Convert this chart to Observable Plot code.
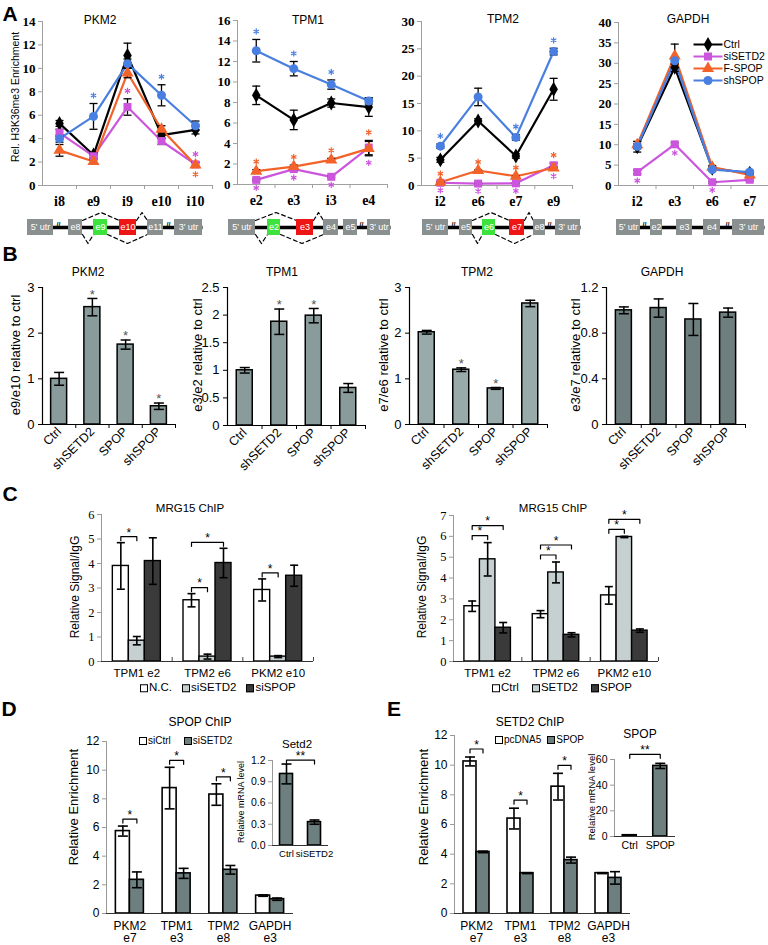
<!DOCTYPE html>
<html><head><meta charset="utf-8">
<script src="https://cdn.jsdelivr.net/npm/d3@7"></script>
<script src="https://cdn.jsdelivr.net/npm/@observablehq/plot@0.6"></script>
<style>
html,body{margin:0;padding:0;background:#fff;}
#root{position:relative;width:768px;height:945px;overflow:hidden;font-family:"Liberation Sans",Arial,sans-serif;color:#000;background:#fff;}
.t{position:absolute;white-space:nowrap;transform:translate(-50%,-50%);line-height:1;}
.r{transform:translate(-50%,-50%) rotate(-90deg);}
.lg{position:absolute;display:flex;align-items:center;transform:translateY(-50%);white-space:nowrap;line-height:1;}
.lg .sq{display:inline-block;width:6px;height:6px;border:1px solid #000;margin-right:1px;}
</style></head><body><div id="root"></div>
<script>
// ---------- DATA ----------
// Panel A: H3K36me3 ChIP line charts
const aSeries = ["Ctrl","siSETD2","F-SPOP","shSPOP"];
const aColors = ["#000000","#cc55dd","#f26229","#4a7fe2"];
const aSymbols = ["diamond","square","triangle","circle"];

const pkm2Sites = ["i8","e9","i9","e10","i10"];
const pkm2Vals = {"Ctrl":[5.3,2.6,11.1,4.3,4.75],"siSETD2":[4.5,2.5,6.7,3.8,1.8],"F-SPOP":[3.0,2.05,9.6,4.8,1.75],"shSPOP":[4.0,5.9,10.4,7.7,5.1]};
const pkm2Errs = {"Ctrl":[0.25,0.2,1.05,0.3,0.35],"siSETD2":[0.3,0.2,0.7,0.3,0.2],"F-SPOP":[0.5,0.15,0.4,0.3,0.2],"shSPOP":[0.3,1.1,0.4,0.9,0.4]};
const pkm2Stars = [["e9","shSPOP","a"],["e10","shSPOP","a"],["i9","siSETD2","a"],["i10","siSETD2","a"],["i10","F-SPOP","b"]];

const tpm1Sites = ["e2","e3","i3","e4"];
const tpm1Vals = {"Ctrl":[8.7,6.3,7.95,7.55],"siSETD2":[0.45,1.5,0.75,3.6],"F-SPOP":[1.3,1.75,2.4,3.5],"shSPOP":[13.05,11.3,9.75,8.15]};
const tpm1Errs = {"Ctrl":[0.9,0.95,0.4,0.9],"siSETD2":[0.1,0.15,0.1,0.7],"F-SPOP":[0.15,0.15,0.15,0.7],"shSPOP":[1.1,0.7,0.45,0.3]};
const tpm1Stars = [["e2","shSPOP","a"],["e3","shSPOP","a"],["i3","shSPOP","a"],["e2","F-SPOP","a"],["e3","F-SPOP","a"],["i3","F-SPOP","a"],["e4","F-SPOP","a"],["e2","siSETD2","b"],["e3","siSETD2","b"],["i3","siSETD2","b"],["e4","siSETD2","b"]];

const tpm2Sites = ["i2","e6","e7","e9"];
const tpm2Vals = {"Ctrl":[4.7,11.8,5.4,17.6],"siSETD2":[0.5,0.35,0.4,3.7],"F-SPOP":[0.6,2.75,1.7,3.2],"shSPOP":[7.2,16.2,8.8,24.5]};
const tpm2Errs = {"Ctrl":[0.45,0.4,0.4,2.0],"siSETD2":[0.1,0.1,0.1,0.4],"F-SPOP":[0.1,0.1,0.1,0.2],"shSPOP":[0.4,1.6,0.5,0.6]};
const tpm2Stars = [["i2","shSPOP","a"],["e7","shSPOP","a"],["e9","shSPOP","a"],["i2","F-SPOP","a"],["e6","F-SPOP","a"],["e7","F-SPOP","a"],["e9","F-SPOP","a"],["i2","siSETD2","b"],["e6","siSETD2","b"],["e7","siSETD2","b"],["e9","siSETD2","b"]];

const gapdhSites = ["i2","e3","e6","e7"];
const gapdhVals = {"Ctrl":[9.5,29.0,4.2,3.0],"siSETD2":[3.3,10.1,0.8,1.4],"F-SPOP":[10.0,31.8,4.5,2.6],"shSPOP":[9.6,30.6,3.9,3.3]};
const gapdhErrs = {"Ctrl":[1.3,1.0,0.4,0.4],"siSETD2":[0.4,0.4,0.2,0.3],"F-SPOP":[0.8,2.9,0.4,0.4],"shSPOP":[0.6,0.8,0.3,0.4]};
const gapdhStars = [["i2","siSETD2","b"],["e3","siSETD2","b"],["e6","siSETD2","b"]];

// Gene schematics: [label, start, end, kind]  (kind: g = constitutive, in = included, ex = excluded)
const pkm2Exons = [["5' utr",27,53,"g"],["e8",68,82,"g"],["e9",93,107,"in"],["e10",119,136,"ex"],["e11",147,163,"g"],["3' utr",174,202,"g"]];
const pkm2Arcs = [[82,119,"up"],[136,147,"up"],[82,93,"down"],[107,147,"down"]];
const pkm2Breaks = [58,168];
const tpm1Exons = [["5' utr",228,255,"g"],["e2",267,280,"in"],["e3",296,313,"ex"],["e4",323,338,"g"],["e5",343,357,"g"],["3' utr",367,390,"g"]];
const tpm1Arcs = [[255,296,"up"],[313,323,"up"],[255,267,"down"],[280,323,"down"]];
const tpm1Breaks = [361];
const tpm2Exons = [["5' utr",422,448,"g"],["e5",459,472,"g"],["e6",482,495,"in"],["e7",509,524,"ex"],["e8",533,545,"g"],["3' utr",555,580,"g"]];
const tpm2Arcs = [[472,509,"up"],[524,533,"up"],[472,482,"down"],[495,533,"down"]];
const tpm2Breaks = [453,549];
const gapdhExons = [["5' utr",616,640,"g"],["e2",650,662,"g"],["e3",676,692,"g"],["e4",703,720,"g"],["3' utr",732,764,"g"]];
const gapdhArcs = [];
const gapdhBreaks = [644,727];

// Panel B: exon inclusion ratios
const bCats = ["Ctrl","shSETD2","SPOP","shSPOP"];
const pkm2Ratio = [1.0,2.57,1.75,0.4];
const pkm2RatioErr = [0.14,0.19,0.1,0.07];
const pkm2RatioStar = [false,true,true,true];
const tpm1Ratio = [1.0,1.88,1.99,0.68];
const tpm1RatioErr = [0.05,0.23,0.13,0.08];
const tpm1RatioStar = [false,true,true,false];
const tpm2Ratio = [2.02,1.2,0.79,2.65];
const tpm2RatioErr = [0.04,0.04,0.02,0.07];
const tpm2RatioStar = [false,true,true,false];
const gapdhRatio = [1.0,1.02,0.92,0.98];
const gapdhRatioErr = [0.03,0.08,0.14,0.04];
const gapdhRatioStar = [false,false,false,false];

// Panel C: MRG15 ChIP
const cGroups = ["TPM1 e2","TPM2 e6","PKM2 e10"];
const cLeftSeries = ["N.C.","siSETD2","siSPOP"];
const cLeftVals = [[3.9,2.5,2.92],[0.85,0.2,0.2],[4.1,4.02,3.5]];
const cLeftErrs = [[0.95,0.27,0.45],[0.17,0.1,0.04],[0.95,0.6,0.43]];
const cLeftSig = [{from:[0,0],to:[0,1]},{from:[1,0],to:[1,1]},{from:[1,0],to:[1,2]},{from:[2,0],to:[2,1]}];
const cRightSeries = ["Ctrl","SETD2","SPOP"];
const cRightVals = [[2.65,2.27,3.17],[4.9,4.27,5.97],[1.62,1.28,1.48]];
const cRightErrs = [[0.25,0.17,0.42],[0.8,0.5,0.03],[0.25,0.1,0.08]];
const cRightSig = [{from:[0,0],to:[0,1]},{from:[0,0],to:[0,2],tier:1},{from:[1,0],to:[1,1]},{from:[1,0],to:[1,2],tier:1},{from:[2,0],to:[2,1]},{from:[2,0],to:[2,2],tier:1}];
const cFills = ["#ffffff","#c6d0d0","#3a3a3a"];

// Panel D: SPOP ChIP
const deGroups = ["PKM2\ne7","TPM1\ne3","TPM2\ne8","GAPDH\ne3"];
const dSeries = ["siCtrl","siSETD2"];
const dVals = [[5.75,8.75,8.3,1.25],[2.35,2.8,3.05,1.0]];
const dErrs = [[0.35,1.45,0.75,0.05],[0.55,0.35,0.3,0.08]];
const dSig = [{from:[0,0],to:[0,1]},{from:[1,0],to:[1,1]},{from:[2,0],to:[2,1]}];
const dInsetCats = ["Ctrl","siSETD2"];
const dInsetVals = [1.01,0.33];
const dInsetErrs = [0.14,0.03];

// Panel E: SETD2 ChIP
const eSeries = ["pcDNA5","SPOP"];
const eVals = [[10.25,6.4,8.55,2.72],[4.15,2.72,3.6,2.4]];
const eErrs = [[0.3,0.7,0.9,0.03],[0.05,0.03,0.2,0.42]];
const eSig = [{from:[0,0],to:[0,1]},{from:[1,0],to:[1,1]},{from:[2,0],to:[2,1]}];
const eInsetCats = ["Ctrl","SPOP"];
const eInsetVals = [1,55];
const eInsetErrs = [0.3,2];
const deFills = ["#ffffff","#6e7f7f"];

// ---------- DRAWING ----------
const root = document.getElementById("root");
const serif = "Liberation Serif, 'Times New Roman', serif";
const sans = "Liberation Sans, Arial, sans-serif";

function mk(box, frame, opts) {
  const [L,T,R,B] = box, [x0,y0,x1,y1] = frame;
  const svg = Plot.plot({
    width: R-L, height: B-T,
    marginLeft: x0-L, marginRight: R-x1, marginTop: y0-T, marginBottom: B-y1,
    style: {background:"transparent", overflow:"visible", fontFamily: sans, fontSize:"12px", color:"#000"},
    ...opts
  });
  svg.style.position = "absolute"; svg.style.left = L+"px"; svg.style.top = T+"px";
  svg.style.maxWidth = "none"; svg.style.overflow = "visible";
  root.appendChild(svg);
  return svg;
}
function label(text, x, y, size, o = {}) {
  const d = document.createElement("div");
  d.className = "t" + (o.rotate ? " r" : "");
  d.textContent = text;
  d.style.left = x+"px"; d.style.top = y+"px"; d.style.fontSize = size+"px";
  if (o.bold) d.style.fontWeight = "bold";
  root.appendChild(d);
}
function legend(items, fills, x, y, size, gap) {
  const d = document.createElement("div");
  d.className = "lg"; d.style.left = x+"px"; d.style.top = y+"px"; d.style.fontSize = size+"px";
  items.forEach((it, i) => {
    const sq = document.createElement("span"); sq.className = "sq"; sq.style.background = fills[i];
    const tx = document.createElement("span"); tx.textContent = it;
    if (i < items.length-1) tx.style.marginRight = gap+"px";
    d.appendChild(sq); d.appendChild(tx);
  });
  root.appendChild(d);
}

function linePanel(box, frame, sites, vals, errs, ymax, ystep, stars) {
  const n = sites.length;
  const [x0,y0,x1,y1] = frame;
  const band = (x1-x0)/n, ppu = (y1-y0)/ymax;
  const rows = [];
  aSeries.forEach(s => sites.forEach((site,i) => rows.push({s, i, v: vals[s][i], e: errs[s][i]})));
  const near = 12/ppu;
  const starRows = stars.map(([site, s, pos]) => {
    const i = sites.indexOf(site), v = vals[s][i];
    const cl = rows.filter(r => r.i === i && Math.abs(r.v - v) <= near);
    const y = pos === "a" ? d3.max(cl, r => r.v + r.e) : d3.min(cl, r => r.v - r.e);
    return {s, i, y, pos};
  });
  const erows = rows.filter(r => r.e > 0);
  const cw = 4/band;
  const caps = erows.flatMap(r => [{i:r.i, y:r.v+r.e},{i:r.i, y:r.v-r.e}]);
  mk(box, frame, {
    x: {type:"linear", domain:[-0.5, n-0.5]},
    y: {domain:[0, ymax]},
    color: {domain: aSeries, range: aColors},
    symbol: {domain: aSeries, range: aSymbols},
    marks: [
      Plot.ruleY([0], {stroke:"#a0a0a0"}),
      Plot.ruleX([-0.5], {stroke:"#a0a0a0"}),
      Plot.axisY({ticks: d3.range(0, ymax+1e-9, ystep), tickFormat: d3.format("d"), tickSize:4, tickPadding:3, stroke:"#a0a0a0", fontFamily: serif, fontWeight:"bold", fontSize:13, label:null}),
      Plot.axisX({ticks: d3.range(0.5, n, 1), tickSize:4, tickFormat: () => "", stroke:"#a0a0a0", label:null}),
      Plot.axisX({ticks: d3.range(n), tickSize:0, tickPadding:11, tickFormat: i => sites[i], fontFamily: serif, fontWeight:"bold", fontSize:14, label:null}),
      Plot.line(rows, {x:"i", y:"v", z:"s", stroke:"s", strokeWidth:2.2}),
      Plot.ruleX(erows, {x:"i", y1: r => r.v - r.e, y2: r => r.v + r.e, stroke:"#000", strokeWidth:1.3}),
      Plot.link(caps, {x1: r => r.i - cw, x2: r => r.i + cw, y1:"y", y2:"y", stroke:"#000", strokeWidth:1.3}),
      Plot.dot(rows, {x:"i", y:"v", symbol:"s", fill:"s", r:4.5}),
      // significance asterisks
      Plot.dot(starRows.filter(d => d.pos === "a"), {x:"i", y:"y", symbol:"asterisk", stroke:"s", r:2.9, strokeWidth:1.2, dy:-8}),
      Plot.dot(starRows.filter(d => d.pos === "b"), {x:"i", y:"y", symbol:"asterisk", stroke:"s", r:2.9, strokeWidth:1.2, dy:7})
    ]
  });
}

function barPanel(box, frame, cats, vals, errs, stars, ymax, ticks, fill, fmt) {
  const n = cats.length;
  const [x0,y0,x1,y1] = frame;
  const band = (x1-x0)/n;
  const rows = cats.map((c,i) => ({c, i, v: vals[i], e: errs[i], star: stars[i]}));
  const hw = 8/band, cw = 5/band;
  const caps = rows.flatMap(r => [{i:r.i, y:r.v+r.e},{i:r.i, y:r.v-r.e}]);
  mk(box, frame, {
    x: {type:"linear", domain:[-0.5, n-0.5]},
    y: {domain:[0, ymax]},
    marks: [
      Plot.rect(rows, {x1: r => r.i - hw, x2: r => r.i + hw, y1: () => 0, y2:"v", fill, stroke:"#000", strokeWidth:1.5}),
      Plot.ruleX(rows, {x:"i", y1: r => r.v - r.e, y2: r => r.v + r.e, stroke:"#000", strokeWidth:1.5}),
      Plot.link(caps, {x1: r => r.i - cw, x2: r => r.i + cw, y1:"y", y2:"y", stroke:"#000", strokeWidth:1.5}),
      Plot.ruleY([0], {stroke:"#000", strokeWidth:1.2}),
      Plot.ruleX([-0.5], {stroke:"#000", strokeWidth:1.2}),
      Plot.axisY({ticks, tickFormat: fmt, tickSize:4, tickPadding:4, fontSize:13, label:null}),
      Plot.axisX({ticks: d3.range(0.5, n+0.5, 1), tickSize:4, tickFormat: () => "", label:null}),
      Plot.axisX({ticks: d3.range(n), tickSize:0, tickPadding:5, tickRotate:-45, tickFormat: i => cats[i], fontSize:12.5, label:null}),
      Plot.text(rows.filter(r => r.star), {x:"i", y: r => r.v + r.e, text: () => "*", fill:"#555", fontSize:13, dy:-4})
    ]
  });
}

function groupPanel(o) {
  const n = o.groups.length, ns = o.series.length;
  const [x0,y0,x1,y1] = o.frame;
  const band = (x1-x0)/n, ppu = (y1-y0)/o.ymax;
  const w = o.barPx/band;
  const rows = [];
  o.series.forEach((s,si) => o.groups.forEach((g,gi) => rows.push({s, si, gi, v: o.vals[si][gi], e: o.errs[si][gi], x: gi + (si-(ns-1)/2)*w})));
  const at = (gi,si) => rows.find(r => r.gi === gi && r.si === si);
  const br = (o.sig || []).map((b,k) => {
    const a = at(...b.from), c = at(...b.to);
    const lo = Math.min(a.x,c.x), hi = Math.max(a.x,c.x);
    const top = d3.max(rows.filter(r => r.x >= lo-1e-9 && r.x <= hi+1e-9), r => r.v + r.e);
    const y = top + (o.pad + (b.tier || 0)*o.tierPx)/ppu;
    return {k, xa:a.x, xb:c.x, y, leg: 4/ppu, label: o.sigLabel || "*"};
  });
  const brPts = br.flatMap(b => [{k:b.k,x:b.xa,y:b.y-b.leg},{k:b.k,x:b.xa,y:b.y},{k:b.k,x:b.xb,y:b.y},{k:b.k,x:b.xb,y:b.y-b.leg}]);
  const cw = (o.capPx || 4)/band;
  const erows = rows.filter(r => r.e > 0);
  const caps = erows.flatMap(r => [{x:r.x, y:r.v+r.e},{x:r.x, y:r.v-r.e}]);
  const marks = [
    Plot.rect(rows, {x1: r => r.x - w/2, x2: r => r.x + w/2, y1: () => 0, y2:"v", fill:"s", stroke:"#000", strokeWidth: o.barStroke || 1.4}),
    Plot.ruleX(erows, {x:"x", y1: r => r.v - r.e, y2: r => r.v + r.e, stroke:"#000", strokeWidth:1.6}),
    Plot.link(caps, {x1: r => r.x - cw, x2: r => r.x + cw, y1:"y", y2:"y", stroke:"#000", strokeWidth:1.6}),
    Plot.ruleY([0], {stroke: o.xAxisColor || "#333"}),
    Plot.ruleX([-0.5], {stroke: o.axisColor || "#999"}),
    Plot.axisY({ticks: o.ticks, tickFormat: o.tickFormat || d3.format("d"), tickSize:4, tickPadding:3, stroke: o.axisColor || "#999", fontFamily: o.tickFont || sans, fontSize: o.tickFontSize || 12, label:null}),
    Plot.axisX({ticks: d3.range(n), tickFormat: i => o.groups[i], tickSize:0, tickPadding: o.catPad || 6, fontSize: o.catFontSize || 12, lineHeight: o.lineHeight || 1, label:null}),
    Plot.line(brPts, {x:"x", y:"y", z:"k", stroke:"#000", strokeWidth:1.2}),
    Plot.text(br, {x: b => (b.xa+b.xb)/2, y:"y", text:"label", dy:-4, fontSize: o.starSize || 12})
  ];
  if (o.bounds) marks.push(Plot.ruleX(d3.range(0.5, n, 1), {y1: () => 0, y2: () => 4/ppu, stroke:"#444"}));
  mk(o.box, o.frame, {
    x: {type:"linear", domain:[-0.5, n-0.5]},
    y: {domain:[0, o.ymax]},
    color: {domain: o.series, range: o.fills},
    marks
  });
}

// ----- Panel A -----
linePanel([0,0,215,215], [42,21,212,185], pkm2Sites, pkm2Vals, pkm2Errs, 14, 2, pkm2Stars);
linePanel([195,0,390,215], [237,20,387,184], tpm1Sites, tpm1Vals, tpm1Errs, 16, 2, tpm1Stars);
linePanel([385,0,575,215], [421,21,572,185], tpm2Sites, tpm2Vals, tpm2Errs, 30, 5, tpm2Stars);
linePanel([580,0,768,215], [618,22,768,185], gapdhSites, gapdhVals, gapdhErrs, 40, 5, gapdhStars);

// legend for panel A
mk([690,26,768,96], [693,26,722,96], {
  x: {domain:[0,1], axis:null},
  y: {type:"point", domain: aSeries, range:[10,61], axis:null},
  color: {domain: aSeries, range: aColors},
  symbol: {domain: aSeries, range: aSymbols},
  marks: [
    Plot.link(aSeries, {x1: () => 0, x2: () => 1, y1: d => d, y2: d => d, stroke: d => d, strokeWidth:2}),
    Plot.dot(aSeries, {x: () => 0.5, y: d => d, symbol: d => d, fill: d => d, r:4.5}),
    Plot.text(aSeries, {x: () => 1, y: d => d, text: d => d, dx:1, textAnchor:"start", fontSize:10.5})
  ]
});

// gene schematics
const exonColor = {g:"#8a8f8f", in:"#3de23d", ex:"#ee1515"};
const genes = [[pkm2Exons,pkm2Arcs,pkm2Breaks],[tpm1Exons,tpm1Arcs,tpm1Breaks],[tpm2Exons,tpm2Arcs,tpm2Breaks],[gapdhExons,gapdhArcs,gapdhBreaks]];
const exRows = genes.flatMap(([ex]) => ex.map(([label,x1,x2,kind]) => ({label,x1,x2,kind})));
const spines = genes.map(([ex]) => ({x1: d3.min(ex, e => e[1]), x2: d3.max(ex, e => e[2])}));
const arcPts = genes.flatMap(([,arcs], gi) => arcs.flatMap(([a,b,dir],k) => {
  const base = dir === "up" ? 220 : 234, apex = dir === "up" ? 212 : 243;
  const id = gi*10+k;
  return [{id,x:a,y:base},{id,x:(a+b)/2,y:apex},{id,x:b,y:base}];
}));
const breaks = genes.flatMap(([,,br]) => br);
mk([0,205,768,250], [0,205,768,250], {
  x: {domain:[0,768], axis:null},
  y: {domain:[250,205], axis:null},
  marks: [
    Plot.link(spines, {x1:"x1", x2:"x2", y1: () => 227, y2: () => 227, stroke:"#000", strokeWidth:3.5}),
    Plot.line(arcPts, {x:"x", y:"y", z:"id", stroke:"#000", strokeWidth:1.2, strokeDasharray:"4,3"}),
    Plot.rect(exRows, {x1:"x1", x2:"x2", y1: () => 219, y2: () => 235, fill: d => exonColor[d.kind]}),
    Plot.text(exRows, {x: d => (d.x1+d.x2)/2, y: () => 227, text:"label", fill:"#fff", fontSize:9}),
    Plot.text(breaks, {x: d => d, y: () => 224, text: () => "//", fontSize:7, fontWeight:"bold"})
  ]
});

// ----- Panel B -----
barPanel([0,275,190,490], [42,287,175,424], bCats, pkm2Ratio, pkm2RatioErr, pkm2RatioStar, 3, [0,1,2,3], "#8a9b9b", d3.format("d"));
barPanel([190,275,380,490], [227,287,365,425], bCats, tpm1Ratio, tpm1RatioErr, tpm1RatioStar, 2.5, [0,0.5,1,1.5,2,2.5], "#8a9b9b", d => String(d));
barPanel([380,275,570,490], [409,287,547,424], bCats, tpm2Ratio, tpm2RatioErr, tpm2RatioStar, 3, [0,1,2,3], "#98aaaa", d3.format("d"));
barPanel([570,275,768,490], [606,287,745,424], bCats, gapdhRatio, gapdhRatioErr, gapdhRatioStar, 1.2, [0,0.4,0.8,1.2], "#6f7f7f", d => String(d));

// ----- Panel C -----
groupPanel({box:[50,505,330,700], frame:[101,514,313,661], groups:cGroups, series:cLeftSeries, fills:cFills, vals:cLeftVals, errs:cLeftErrs, sig:cLeftSig,
  ymax:6, ticks:d3.range(0,7), tickFont:serif, tickFontSize:12.5, barPx:16, pad:6, tierPx:10, catFontSize:11.5, catPad:7, bounds:true, capPx:4});
groupPanel({box:[400,505,700,700], frame:[453,515,658,661], groups:cGroups, series:cRightSeries, fills:cFills, vals:cRightVals, errs:cRightErrs, sig:cRightSig,
  ymax:7, ticks:d3.range(0,8), tickFont:serif, tickFontSize:12.5, barPx:15.5, pad:7, tierPx:10, catFontSize:11.5, catPad:7, bounds:true, capPx:4});
legend(cLeftSeries, cFills, 140, 688, 11.5, 10);
legend(cRightSeries, cFills, 492, 688, 11.5, 13);

// ----- Panel D -----
groupPanel({box:[40,715,300,945], frame:[106,741,293,913], groups:deGroups, series:dSeries, fills:deFills, vals:dVals, errs:dErrs, sig:dSig,
  ymax:12, ticks:d3.range(0,13,2), tickFontSize:12, barPx:14, pad:7, tierPx:10, catFontSize:12, catPad:8, lineHeight:1.02, capPx:5, barStroke:1.6});
groupPanel({box:[230,740,340,870], frame:[272,760,328,845], groups:dInsetCats, series:["Setd2"], fills:["#6e7f7f"], vals:[dInsetVals], errs:[dInsetErrs],
  sig:[{from:[0,0],to:[1,0]}], sigLabel:"**", ymax:1.2, ticks:[0,0.3,0.6,0.9,1.2], tickFormat:d3.format(".1f"), tickFontSize:10.5, barPx:13, pad:4, tierPx:0, catFontSize:9.5, catPad:5, capPx:5, barStroke:1.6});
legend(dSeries, deFills, 139, 741, 10, 13);

// ----- Panel E -----
groupPanel({box:[390,715,650,945], frame:[454,735,630,913], groups:deGroups, series:eSeries, fills:deFills, vals:eVals, errs:eErrs, sig:eSig,
  ymax:12, ticks:d3.range(0,13,2), tickFontSize:12, barPx:13, pad:8, tierPx:10, catFontSize:12, catPad:8, lineHeight:1.02, capPx:5, barStroke:1.6});
groupPanel({box:[580,730,700,860], frame:[614,759,675,836], groups:eInsetCats, series:["SPOP"], fills:["#6e7f7f"], vals:[eInsetVals], errs:[eInsetErrs],
  sig:[{from:[0,0],to:[1,0]}], sigLabel:"**", ymax:60, ticks:[0,20,40,60], tickFontSize:10.5, barPx:14, pad:9, tierPx:0, catFontSize:10.5, catPad:5, capPx:5, barStroke:1.6});
legend(eSeries, deFills, 495, 740, 10, 6);

// ----- Titles, axis labels, panel letters -----
[["A",10,13],["B",10,253],["C",10,493],["D",9,708],["E",394,708]].forEach(([t,x,y]) => label(t, x, y, 21, {bold:true}));
[["PKM2",100,20],["TPM1",308,20],["TPM2",503,19],["GAPDH",688,19]].forEach(([t,x,y]) => label(t, x, y, 12));
label("Rel. H3K36me3 Enrichment", 15, 97, 10.5, {rotate:true});
[["PKM2",88,272],["TPM1",282,272],["TPM2",477,272],["GAPDH",662,272]].forEach(([t,x,y]) => label(t, x, y, 12));
[["e9/e10 relative to ctrl",15],["e3/e2 relative to ctrl",197],["e7/e6 relative to ctrl",383],["e3/e7 relative to ctrl",575]].forEach(([t,x]) => label(t, x, 355, 13, {rotate:true}));
label("MRG15 ChIP", 190, 509, 11.5); label("MRG15 ChIP", 553, 509, 11.5);
label("Relative Signal/IgG", 75, 587, 12, {rotate:true}); label("Relative Signal/IgG", 422, 587, 12, {rotate:true});
label("SPOP ChIP", 200, 722, 12); label("SETD2 ChIP", 530, 722, 12);
label("Relative Enrichment", 73, 807, 13, {rotate:true}); label("Relative Enrichment", 423, 807, 13, {rotate:true});
label("Setd2", 297, 745, 11.5); label("Relative mRNA level", 241, 802, 9, {rotate:true});
label("SPOP", 640, 734, 12); label("Relative mRNA level", 592, 797, 9.5, {rotate:true});
</script></body></html>
